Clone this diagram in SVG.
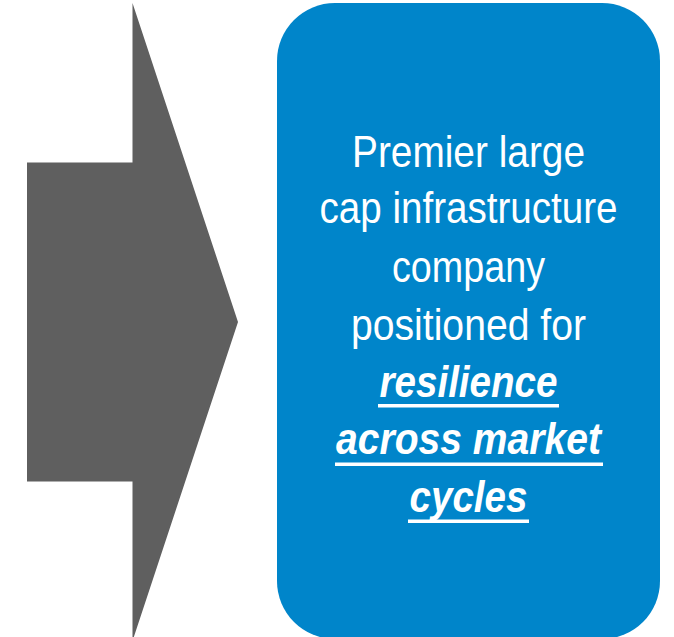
<svg xmlns="http://www.w3.org/2000/svg" width="674" height="637" viewBox="0 0 674 637">
  <style>
    .arrow { fill: #5f5f5f; }
    .panel { fill: #0085ca; }
    .txt { fill: #ffffff; font-family: "Liberation Sans", Arial, sans-serif; font-size: 44px; text-anchor: middle; }
    .em { font-weight: bold; font-style: italic; }
    .ul { fill: #ffffff; }
  </style>

  <!-- Block arrow pointing right -->
  <g id="arrow">
    <polygon class="arrow" points="27,162.5 132.5,162.5 132.5,3 238,322 132.5,641 132.5,481.5 27,481.5"/>
  </g>

  <!-- Rounded outcome panel -->
  <g id="outcome">
    <rect class="panel" x="277" y="3" width="383" height="636" rx="58" ry="58"/>
    <text class="txt" x="468.5" y="167" textLength="233" lengthAdjust="spacingAndGlyphs">Premier large</text>
    <text class="txt" x="468.5" y="223" textLength="298" lengthAdjust="spacingAndGlyphs">cap infrastructure</text>
    <text class="txt" x="468.5" y="282" textLength="153" lengthAdjust="spacingAndGlyphs">company</text>
    <text class="txt" x="468.5" y="340" textLength="235" lengthAdjust="spacingAndGlyphs">positioned for</text>
    <text class="txt em" x="468.5" y="397" textLength="178" lengthAdjust="spacingAndGlyphs">resilience</text>
    <text class="txt em" x="468.5" y="454" textLength="265" lengthAdjust="spacingAndGlyphs">across market</text>
    <text class="txt em" x="468.5" y="512" textLength="118" lengthAdjust="spacingAndGlyphs">cycles</text>
    <!-- underlines for the emphasised lines -->
    <rect class="ul" x="378" y="404" width="181" height="3.5"/>
    <rect class="ul" x="335" y="462.5" width="268" height="3.5"/>
    <rect class="ul" x="408" y="519.5" width="121" height="3.5"/>
  </g>
</svg>
